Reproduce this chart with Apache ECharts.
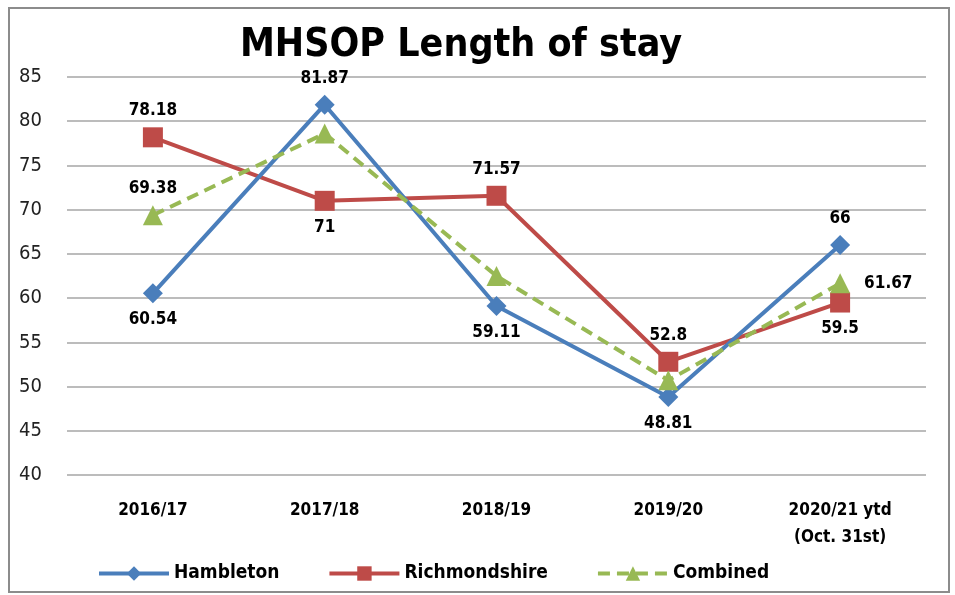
<!DOCTYPE html>
<html>
<head>
<meta charset="utf-8">
<script src="https://cdn.jsdelivr.net/npm/echarts@6/dist/echarts.min.js"></script>
<style>
html,body{margin:0;padding:0;background:#fff;}
#c{width:955px;height:595px;}
</style>
</head>
<body>
<div id="c"></div>
<script>
const categories = ['2016/17', '2017/18', '2018/19', '2019/20', '2020/21 ytd\n(Oct. 31st)'];
const hambleton = [60.54, 81.87, 59.11, 48.81, 66];
const richmondshire = [78.18, 71, 71.57, 52.8, 59.5];
const combined = [69.38, 78.6, 62.5, 50.7, 61.67];
const yTicks = [40, 45, 50, 55, 60, 65, 70, 75, 80, 85];

// label placement (style, not data)
const hamLabelPos = ['bottom', 'top', 'bottom', 'bottom', 'top'];
const richLabelPos = ['top', 'bottom', 'top', 'top', 'bottom'];
const combLabelPos = ['top', null, null, null, 'right'];

const FONT = "'Liberation Sans Narrow', 'DejaVu Sans Condensed', 'Open Sans', sans-serif";

function withLabels(values, positions) {
  return values.map((v, i) => {
    const p = positions[i];
    if (!p) return { value: v, label: { show: false } };
    return { value: v, label: { show: true, position: p, distance: p === 'right' ? 14 : 8 } };
  });
}

const labelStyle = { color: '#000', fontWeight: 'bold', fontSize: 17, fontFamily: FONT };

const chart = echarts.init(document.getElementById('c'), null, { renderer: 'canvas' });
chart.setOption({
  animation: false,
  backgroundColor: '#fff',
  grid: { left: 67, right: 29, top: 77, bottom: 120 },
  graphic: [
    { type: 'rect', shape: { x: 9, y: 8, width: 940, height: 584 }, style: { fill: 'none', stroke: '#8c8c8c', lineWidth: 2 }, silent: true },
    { type: 'text', x: 461, y: 46, style: { text: 'MHSOP Length of stay', fill: '#000', font: "bold 39px " + FONT, textAlign: 'center', textVerticalAlign: 'middle' } }
  ],
  legend: {
    bottom: 7,
    left: 92,
    itemWidth: 70,
    itemHeight: 18,
    itemGap: 48,
    textStyle: { color: '#000', fontWeight: 'bold', fontSize: 19, fontFamily: FONT },
    data: [
      { name: 'Hambleton', lineStyle: { width: 4 } },
      { name: 'Richmondshire', lineStyle: { width: 4 } },
      { name: 'Combined', lineStyle: { width: 4 } }
    ]
  },
  xAxis: {
    type: 'category',
    data: categories,
    boundaryGap: true,
    axisLine: { show: false },
    axisTick: { show: false },
    axisLabel: { color: '#000', fontWeight: 'bold', fontSize: 17, fontFamily: FONT, margin: 22, lineHeight: 27 }
  },
  yAxis: {
    type: 'value',
    min: yTicks[0],
    max: yTicks[yTicks.length - 1],
    interval: 5,
    axisLine: { show: false },
    axisTick: { show: false },
    axisLabel: { color: '#222', fontSize: 20, fontFamily: FONT, margin: 25 },
    splitLine: { lineStyle: { color: '#a6a6a6', width: 1.5 } }
  },
  series: [
    {
      name: 'Hambleton', type: 'line', data: withLabels(hambleton, hamLabelPos),
      symbol: 'diamond', symbolSize: 20,
      itemStyle: { color: '#4A7EBB' },
      lineStyle: { color: '#4A7EBB', width: 4 },
      label: labelStyle, z: 3
    },
    {
      name: 'Richmondshire', type: 'line', data: withLabels(richmondshire, richLabelPos),
      symbol: 'rect', symbolSize: 20,
      itemStyle: { color: '#BE4B48' },
      lineStyle: { color: '#BE4B48', width: 4 },
      label: labelStyle, z: 2
    },
    {
      name: 'Combined', type: 'line', data: withLabels(combined, combLabelPos),
      symbol: 'triangle', symbolSize: 20,
      itemStyle: { color: '#98B954' },
      lineStyle: { color: '#98B954', width: 4, type: [12, 7] },
      label: labelStyle, z: 4
    }
  ]
});
</script>
</body>
</html>
